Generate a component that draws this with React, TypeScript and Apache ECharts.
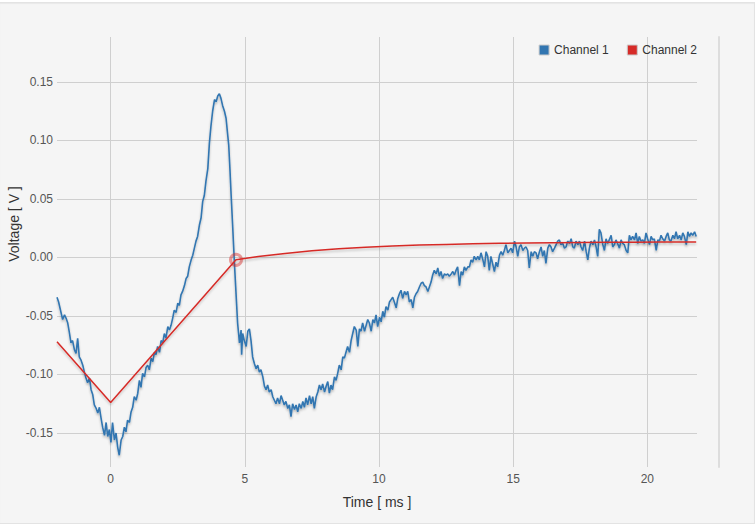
import React, { useEffect, useRef } from "react";
import * as echarts from "echarts";

const seriesNames = ["Channel 1", "Channel 2"];
const xTitle = "Time [ ms ]";
const yTitle = "Voltage [ V ]";

const ch1Time = [
  -2.0, -1.94, -1.85, -1.79, -1.72, -1.66, -1.6, -1.54, -1.48, -1.42, -1.35, -1.29, -1.23, -1.17, -1.1, -1.04,
  -0.98, -0.92, -0.86, -0.79, -0.73, -0.67, -0.61, -0.54, -0.48, -0.42, -0.36, -0.3, -0.23, -0.17, -0.11, -0.05,
  0.01, 0.07, 0.14, 0.2, 0.26, 0.32, 0.39, 0.45, 0.51, 0.57, 0.63, 0.7, 0.76, 0.82, 0.88, 0.95,
  1.01, 1.07, 1.13, 1.19, 1.26, 1.32, 1.38, 1.44, 1.51, 1.57, 1.63, 1.69, 1.75, 1.82, 1.88, 1.94,
  2.0, 2.06, 2.13, 2.19, 2.25, 2.31, 2.37, 2.44, 2.5, 2.56, 2.62, 2.68, 2.75, 2.81, 2.87, 2.93,
  3.0, 3.06, 3.12, 3.18, 3.24, 3.31, 3.37, 3.43, 3.49, 3.55, 3.62, 3.68, 3.74, 3.8, 3.87, 3.93,
  3.99, 4.05, 4.11, 4.17, 4.24, 4.3, 4.36, 4.4, 4.45, 4.49, 4.55, 4.61, 4.67, 4.73, 4.8, 4.86,
  4.88, 4.92, 4.98, 5.05, 5.11, 5.17, 5.23, 5.29, 5.36, 5.42, 5.48, 5.54, 5.6, 5.67, 5.73, 5.79,
  5.85, 5.91, 5.98, 6.04, 6.1, 6.16, 6.22, 6.29, 6.35, 6.41, 6.47, 6.53, 6.6, 6.66, 6.72, 6.78,
  6.85, 6.91, 6.97, 7.03, 7.1, 7.16, 7.22, 7.28, 7.34, 7.41, 7.47, 7.53, 7.59, 7.66, 7.72, 7.78,
  7.84, 7.9, 7.97, 8.03, 8.09, 8.15, 8.21, 8.27, 8.34, 8.4, 8.46, 8.52, 8.59, 8.65, 8.71, 8.77,
  8.83, 8.9, 8.96, 9.02, 9.08, 9.15, 9.21, 9.27, 9.33, 9.39, 9.46, 9.52, 9.58, 9.64, 9.71, 9.77,
  9.83, 9.89, 9.95, 10.02, 10.08, 10.14, 10.2, 10.26, 10.33, 10.39, 10.45, 10.51, 10.57, 10.64, 10.7, 10.76,
  10.82, 10.88, 10.95, 11.01, 11.07, 11.13, 11.2, 11.26, 11.32, 11.38, 11.44, 11.51, 11.57, 11.63, 11.69, 11.75,
  11.82, 11.88, 11.94, 12.0, 12.06, 12.13, 12.19, 12.25, 12.31, 12.37, 12.44, 12.5, 12.56, 12.62, 12.69, 12.75,
  12.81, 12.87, 12.93, 13.0, 13.06, 13.12, 13.18, 13.24, 13.31, 13.37, 13.43, 13.49, 13.55, 13.62, 13.68, 13.74,
  13.8, 13.86, 13.93, 13.99, 14.05, 14.11, 14.17, 14.24, 14.3, 14.36, 14.42, 14.49, 14.55, 14.61, 14.67, 14.73,
  14.8, 14.86, 14.92, 14.98, 15.05, 15.11, 15.17, 15.23, 15.29, 15.36, 15.42, 15.48, 15.54, 15.6, 15.67, 15.73,
  15.79, 15.85, 15.91, 15.98, 16.04, 16.1, 16.16, 16.22, 16.29, 16.35, 16.41, 16.47, 16.54, 16.6, 16.66, 16.72,
  16.78, 16.85, 16.91, 16.97, 17.03, 17.1, 17.16, 17.22, 17.28, 17.34, 17.41, 17.47, 17.53, 17.59, 17.66, 17.72,
  17.78, 17.84, 17.9, 17.97, 18.03, 18.09, 18.15, 18.21, 18.27, 18.34, 18.4, 18.46, 18.52, 18.58, 18.65, 18.71,
  18.77, 18.83, 18.89, 18.96, 19.02, 19.08, 19.14, 19.21, 19.27, 19.33, 19.39, 19.45, 19.52, 19.58, 19.64, 19.7,
  19.76, 19.83, 19.89, 19.95, 20.01, 20.08, 20.14, 20.2, 20.26, 20.33, 20.39, 20.45, 20.51, 20.57, 20.64, 20.7,
  20.76, 20.82, 20.88, 20.95, 21.01, 21.07, 21.13, 21.2, 21.26, 21.32, 21.38, 21.45, 21.51, 21.57, 21.63, 21.69,
  21.76, 21.82,
];

const ch1Volt = [
  -0.034, -0.038, -0.047, -0.053, -0.049, -0.052, -0.056, -0.064, -0.073, -0.071, -0.079, -0.082, -0.069, -0.085, -0.088, -0.092,
  -0.098, -0.103, -0.107, -0.103, -0.113, -0.117, -0.126, -0.129, -0.133, -0.128, -0.137, -0.145, -0.152, -0.141, -0.153, -0.147,
  -0.158, -0.141, -0.156, -0.15, -0.162, -0.169, -0.156, -0.153, -0.145, -0.149, -0.139, -0.141, -0.132, -0.128, -0.119, -0.122,
  -0.116, -0.105, -0.111, -0.099, -0.102, -0.094, -0.092, -0.096, -0.086, -0.089, -0.081, -0.083, -0.076, -0.081, -0.071, -0.073,
  -0.065, -0.069, -0.059, -0.062, -0.058, -0.052, -0.045, -0.047, -0.039, -0.041, -0.032, -0.029, -0.024, -0.018, -0.016, -0.008,
  -0.002, 0.002, 0.008, 0.014, 0.018, 0.028, 0.034, 0.048, 0.053, 0.065, 0.076, 0.098, 0.113, 0.125, 0.135, 0.133,
  0.138, 0.14, 0.136, 0.13, 0.125, 0.119, 0.105, 0.096, 0.073, 0.053, 0.025, -0.004, -0.03, -0.056, -0.073, -0.062,
  -0.083, -0.065, -0.071, -0.076, -0.063, -0.061, -0.071, -0.085, -0.091, -0.095, -0.092, -0.098, -0.096, -0.102, -0.11, -0.113,
  -0.109, -0.115, -0.113, -0.119, -0.122, -0.125, -0.12, -0.125, -0.118, -0.122, -0.126, -0.123, -0.129, -0.126, -0.136, -0.125,
  -0.13, -0.126, -0.132, -0.125, -0.129, -0.123, -0.128, -0.12, -0.126, -0.118, -0.125, -0.119, -0.129, -0.119, -0.115, -0.109,
  -0.113, -0.108, -0.115, -0.11, -0.106, -0.116, -0.109, -0.113, -0.102, -0.105, -0.099, -0.092, -0.096, -0.085, -0.086, -0.081,
  -0.076, -0.081, -0.071, -0.065, -0.059, -0.062, -0.076, -0.061, -0.063, -0.056, -0.063, -0.058, -0.053, -0.056, -0.063, -0.053,
  -0.056, -0.049, -0.059, -0.051, -0.055, -0.046, -0.051, -0.042, -0.045, -0.038, -0.036, -0.034, -0.038, -0.043, -0.035, -0.031,
  -0.028, -0.035, -0.029, -0.032, -0.029, -0.038, -0.036, -0.043, -0.034, -0.031, -0.029, -0.025, -0.022, -0.021, -0.024, -0.025,
  -0.029, -0.025, -0.021, -0.015, -0.011, -0.014, -0.009, -0.016, -0.012, -0.018, -0.014, -0.015, -0.014, -0.016, -0.014, -0.012,
  -0.015, -0.011, -0.008, -0.024, -0.012, -0.015, -0.008, -0.011, -0.008, -0.008, -0.002, -0.004, 0.001, -0.002, 0.001, -0.002,
  0.004, -0.001, -0.008, 0.005, 0.001, -0.011, 0.001, -0.006, -0.012, -0.004, -0.008, 0.002, 0.005, 0.002, 0.006, 0.011,
  0.004, 0.006, 0.008, 0.004, 0.014, 0.009, 0.001, 0.009, 0.011, 0.006, 0.008, 0.009, 0.006, -0.009, 0.005, 0.001,
  0.005, 0.004, -0.001, 0.005, 0.009, 0.001, 0.006, -0.005, 0.008, 0.011, 0.009, 0.005, 0.008, 0.011, 0.014, 0.015,
  0.011, 0.012, 0.008, 0.009, 0.014, 0.012, 0.016, 0.009, 0.008, 0.014, 0.011, 0.014, 0.009, 0.006, 0.014, 0.005,
  -0.002, 0.008, 0.014, 0.011, 0.015, 0.009, 0.001, 0.024, 0.021, 0.011, 0.006, 0.016, 0.012, 0.015, 0.019, 0.009,
  0.011, 0.015, 0.012, 0.008, 0.015, 0.012, 0.011, 0.006, 0.004, 0.019, 0.015, 0.018, 0.015, 0.021, 0.012, 0.018,
  0.014, 0.015, 0.012, 0.021, 0.016, 0.011, 0.018, 0.015, 0.016, 0.006, 0.015, 0.014, 0.019, 0.016, 0.014, 0.018,
  0.021, 0.015, 0.014, 0.019, 0.016, 0.022, 0.016, 0.019, 0.015, 0.021, 0.018, 0.011, 0.022, 0.018, 0.021, 0.019,
  0.022, 0.018,
];

const ch2Time = [-2.0, 0.0, 4.67, 5.5, 6.5, 7.5, 8.5, 9.5, 10.5, 11.5, 12.5, 13.5, 14.5, 15.5, 16.5, 17.5, 18.5, 19.5, 20.5, 21.82];
const ch2Volt = [-0.072, -0.124, -0.002, 0.0008, 0.0035, 0.0058, 0.0075, 0.0088, 0.0098, 0.0106, 0.0112, 0.0117, 0.0121, 0.0124, 0.0126, 0.0128, 0.013, 0.0131, 0.0132, 0.0133];
const ch2MarkedIndex = 2;

const BLUE = "#3276b1";
const RED = "#d62b28";
const FONT = "'Liberation Sans', Arial, sans-serif";

export default function App() {
  const ref = useRef<HTMLDivElement>(null);

  useEffect(() => {
    if (!ref.current) return;
    const chart = echarts.init(ref.current, undefined, { renderer: "svg" });

    const ch1 = ch1Time.map((t, i) => [t, ch1Volt[i]]);
    const ch2 = ch2Time.map((t, i) =>
      i === ch2MarkedIndex
        ? {
            value: [t, ch2Volt[i]],
            symbol: "circle",
            symbolSize: 11,
            itemStyle: { color: "rgba(0,0,0,0)", borderColor: "rgba(214,43,40,0.45)", borderWidth: 3 },
          }
        : { value: [t, ch2Volt[i]] }
    );

    chart.setOption({
      animation: false,
      textStyle: { fontFamily: FONT },
      grid: { left: 57, right: 58, top: 37, bottom: 58, containLabel: false },
      legend: {
        data: seriesNames,
        right: 53,
        top: 39,
        icon: "rect",
        itemWidth: 10,
        itemHeight: 10,
        itemGap: 18,
        itemStyle: { borderColor: "#cccccc", borderWidth: 1 },
        textStyle: { color: "#333", fontSize: 12, fontFamily: FONT },
      },
      graphic: [
        {
          type: "text",
          x: 14,
          y: 224,
          rotation: Math.PI / 2,
          style: {
            text: yTitle,
            fill: "#333",
            font: "14px " + FONT,
            align: "center",
            verticalAlign: "middle",
          },
        },
      ],
      xAxis: {
        type: "value",
        min: -2,
        max: 21.85,
        splitNumber: 5,
        minInterval: 5,
        maxInterval: 5,
        name: xTitle,
        nameLocation: "middle",
        nameGap: 28,
        nameTextStyle: { color: "#333", fontSize: 14, fontFamily: FONT },
        axisLine: { show: false },
        axisTick: { show: false },
        axisLabel: {
          color: "#555",
          fontSize: 12,
          margin: 6,
          showMinLabel: false,
          showMaxLabel: false,
        },
        splitLine: { show: true, showMinLine: false, showMaxLine: false, lineStyle: { color: "#cfcfcf", width: 1 } },
      },
      yAxis: [
        {
          type: "value",
          min: -0.17906,
          max: 0.18846,
          splitNumber: 7,
          minInterval: 0.05,
          maxInterval: 0.05,
          axisLine: { show: false },
          axisTick: { show: false },
          axisLabel: {
            color: "#555",
            fontSize: 12,
            margin: 4,
            showMinLabel: false,
            showMaxLabel: false,
            formatter: (v: number) => v.toFixed(2),
          },
          splitLine: { show: true, showMinLine: false, showMaxLine: false, lineStyle: { color: "#cfcfcf", width: 1 } },
        },
        {
          type: "value",
          position: "right",
          offset: 22,
          min: 0,
          max: 1,
          axisLine: { show: true, lineStyle: { color: "#dddddd", width: 2 } },
          axisTick: { show: false },
          axisLabel: { show: false },
          splitLine: { show: false },
        },
      ],
      series: [
        {
          name: seriesNames[0],
          type: "line",
          data: ch1,
          symbol: "none",
          showSymbol: false,
          itemStyle: { color: BLUE },
          lineStyle: {
            color: BLUE,
            width: 1.6,
            shadowColor: "rgba(0,0,0,0.25)",
            shadowBlur: 2,
            shadowOffsetY: 2,
          },
          z: 2,
        },
        {
          name: seriesNames[1],
          type: "line",
          data: ch2,
          symbol: "none",
          showSymbol: true,
          itemStyle: { color: RED },
          lineStyle: {
            color: RED,
            width: 1.5,
            shadowColor: "rgba(0,0,0,0.2)",
            shadowBlur: 2,
            shadowOffsetY: 2,
          },
          z: 3,
        },
      ],
    });

    return () => chart.dispose();
  }, []);

  return (
    <div style={{ position: "absolute", left: 0, top: 0, width: 755, height: 525, background: "#fff", overflow: "hidden" }}>
      <div
        style={{
          position: "absolute",
          left: -1,
          top: 2,
          width: 756,
          height: 522,
          boxSizing: "border-box",
          border: "1px solid #e3e3e3",
          background: "#f5f5f5",
          boxShadow: "inset 0 1px 1px rgba(0,0,0,0.05)",
        }}
      />
      <div ref={ref} style={{ position: "absolute", left: 0, top: 0, width: 755, height: 525 }} />
    </div>
  );
}
